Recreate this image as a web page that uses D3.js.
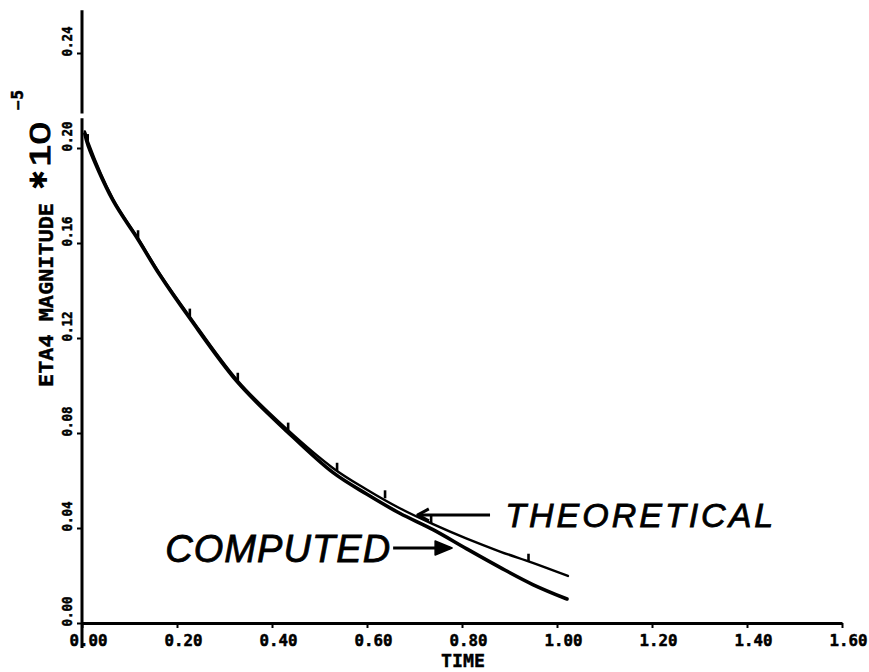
<!DOCTYPE html>
<html><head><meta charset="utf-8">
<script src="https://cdn.jsdelivr.net/npm/d3@7"></script>
<style>body{margin:0;background:#fff}svg{display:block;background:#fff}</style>
</head><body>
<svg id="chart" width="869" height="672"></svg>
<script>
// ---- data ----
const xTicks = [0, 0.2, 0.4, 0.6, 0.8, 1.0, 1.2, 1.4, 1.6];
const xTickLabels = ["0.00","0.20","0.40","0.60","0.80","1.00","1.20","1.40","1.60"];
const yTicks = [0, 0.04, 0.08, 0.12, 0.16, 0.20, 0.24];
const yTickLabels = ["0.00","0.04","0.08","0.12","0.16","0.20","0.24"];

const computedTime  = [0.006, 0.013, 0.065, 0.118, 0.164, 0.227, 0.328, 0.432, 0.528, 0.600, 0.669, 0.739, 0.810, 0.880, 0.949, 1.021];
const computedValue = [0.206, 0.201, 0.178, 0.1615, 0.1465, 0.1283, 0.1013, 0.0806, 0.0634, 0.0542, 0.0462, 0.0393, 0.0312, 0.0234, 0.0162, 0.0101];

const theoreticalTime  = [0.006, 0.013, 0.065, 0.118, 0.164, 0.227, 0.328, 0.432, 0.528, 0.600, 0.669, 0.739, 0.810, 0.880, 0.949, 1.023];
const theoreticalValue = [0.207, 0.2025, 0.1787, 0.162, 0.147, 0.129, 0.102, 0.0815, 0.0653, 0.0561, 0.0483, 0.0416, 0.0355, 0.0301, 0.0253, 0.0198];

// theoretical point symbols (small upward ticks on the curve)
const markerTime  = [0.012, 0.118, 0.227, 0.328, 0.434, 0.537, 0.638, 0.735, 0.940];
const markerValue = [0.2025, 0.162, 0.129, 0.102, 0.081, 0.0641, 0.0525, 0.0419, 0.0258];

const seriesLabels = ["THEORETICAL", "COMPUTED"];
const xTitle = "TIME";
const yTitle = "ETA4 MAGNITUDE";

// ---- scales ----
const svg = d3.select("#chart");
const x = d3.scaleLinear().domain([0, 1.6]).range([82, 842]);
const y = d3.scaleLinear().domain([0, 0.24]).range([623, 53]);

// ---- x axis ----
const gx = svg.append("g").attr("transform", `translate(0,${y(0)})`)
  .call(d3.axisBottom(x).tickValues(xTicks).tickSize(5).tickSizeOuter(0)
        .tickFormat((d, i) => xTickLabels[i]));
gx.select(".domain").attr("stroke", "#000").attr("stroke-width", 3);
gx.selectAll(".tick line").attr("stroke", "#000").attr("stroke-width", 2);
gx.selectAll(".tick text")
  .attr("y", 23).attr("dy", 0).attr("x", 6)
  .attr("font-family", "DejaVu Sans Mono, monospace").attr("font-weight", "bold")
  .attr("font-size", 15.5).attr("fill", "#000").attr("stroke", "#000").attr("stroke-width", 0.5)
  .attr("textLength", 38).attr("lengthAdjust", "spacingAndGlyphs");

// ---- y axis ----
const gy = svg.append("g").attr("transform", `translate(${x(0)},0)`)
  .call(d3.axisLeft(y).tickValues(yTicks).tickSize(5)
        .tickFormat((d, i) => yTickLabels[i]));
gy.select(".domain").remove();
gy.selectAll(".tick line").attr("stroke", "#000").attr("stroke-width", 2);
gy.selectAll(".tick text")
  .attr("transform", "rotate(-90)")
  .attr("x", -3).attr("y", -10).attr("dy", 0)
  .attr("text-anchor", "start")
  .attr("font-family", "DejaVu Sans Mono, monospace").attr("font-weight", "bold")
  .attr("font-size", 14).attr("fill", "#000").attr("stroke", "#000").attr("stroke-width", 0.5)
  .attr("textLength", 30).attr("lengthAdjust", "spacingAndGlyphs");
// axis spine (extends below the x axis and above the last tick, with a small scan gap)
svg.append("path")
  .attr("d", `M${x(0)},${y(0) + 25}V${y(0.2125)}M${x(0)},${y(0.2145)}V${y(0.258)}`)
  .attr("stroke", "#000").attr("stroke-width", 3).attr("fill", "none");

// ---- curves ----
const line = d3.line().x(d => x(d[0])).y(d => y(d[1])).curve(d3.curveCatmullRom.alpha(0.5));
const computed = computedTime.map((t, i) => [t, computedValue[i]]);
const theoretical = theoreticalTime.map((t, i) => [t, theoreticalValue[i]]);

svg.append("path").attr("d", line(computed))
  .attr("fill", "none").attr("stroke", "#000").attr("stroke-width", 3.6)
  .attr("stroke-linecap", "round");
svg.append("path").attr("d", line(theoretical))
  .attr("fill", "none").attr("stroke", "#000").attr("stroke-width", 2.4)
  .attr("stroke-linecap", "round");

svg.append("g").selectAll("line").data(markerTime).join("line")
  .attr("x1", (d) => x(d)).attr("x2", (d) => x(d))
  .attr("y1", (d, i) => y(markerValue[i]))
  .attr("y2", (d, i) => y(markerValue[i]) - 8)
  .attr("stroke", "#000").attr("stroke-width", 2.6);

// ---- axis titles ----
svg.append("text").text(xTitle)
  .attr("x", 463).attr("y", 666.5).attr("text-anchor", "middle")
  .attr("font-family", "DejaVu Sans Mono, monospace").attr("font-weight", "bold")
  .attr("font-size", 18).attr("stroke", "#000").attr("stroke-width", 0.4)
  .attr("textLength", 44).attr("lengthAdjust", "spacingAndGlyphs");

const yt = svg.append("g");
yt.append("text").text(yTitle)
  .attr("transform", "translate(53,387) rotate(-90)")
  .attr("font-family", "DejaVu Sans Mono, monospace").attr("font-weight", "bold")
  .attr("font-size", 20).attr("stroke", "#000").attr("stroke-width", 0.4)
  .attr("textLength", 184).attr("lengthAdjust", "spacingAndGlyphs");
yt.append("text").text("✱")
  .attr("transform", "translate(39,180) rotate(-90)")
  .attr("text-anchor", "middle").attr("dominant-baseline", "central")
  .attr("font-family", "DejaVu Sans").attr("font-size", 24);
yt.append("text").text("10")
  .attr("transform", "translate(50,167) rotate(-90)")
  .attr("font-family", "Liberation Sans, Arial, sans-serif")
  .attr("font-size", 30).attr("stroke", "#000").attr("stroke-width", 1)
  .attr("textLength", 45).attr("lengthAdjust", "spacingAndGlyphs");
yt.append("text").text("−5")
  .attr("transform", "translate(23,111) rotate(-90)")
  .attr("font-family", "DejaVu Sans, sans-serif").attr("font-weight", "bold")
  .attr("font-size", 15).attr("stroke", "#000").attr("stroke-width", 0.5)
  .attr("textLength", 21).attr("lengthAdjust", "spacingAndGlyphs");

// ---- annotations (positions in data units) ----
const annTextPos = [[0.891, 0.0404], [0.175, 0.0257]];
const annTextLen = [268, 225];
const annFontSize = [34, 38];
const annArrowFrom = [[0.859, 0.0455], [0.655, 0.0316]];
const annArrowTo   = [[0.707, 0.0455], [0.775, 0.0316]];

seriesLabels.forEach((lab, i) => {
  svg.append("text").text(lab)
    .attr("x", x(annTextPos[i][0])).attr("y", y(annTextPos[i][1]))
    .attr("font-family", "Liberation Sans, Arial, sans-serif").attr("font-style", "italic")
    .attr("font-size", annFontSize[i]).attr("stroke", "#000").attr("stroke-width", 0.8)
    .attr("textLength", annTextLen[i]).attr("lengthAdjust", "spacing");
  const x1 = x(annArrowFrom[i][0]), y1 = y(annArrowFrom[i][1]);
  const x2 = x(annArrowTo[i][0]), y2 = y(annArrowTo[i][1]);
  svg.append("line").attr("x1", x1).attr("y1", y1).attr("x2", x2).attr("y2", y2)
    .attr("stroke", "#000").attr("stroke-width", 3);
  const dir = Math.sign(x2 - x1);
  if (i === 0) {
    svg.append("path")
      .attr("d", `M${x2 - dir * 11},${y2 - 6}L${x2},${y2}L${x2 - dir * 11},${y2 + 6}`)
      .attr("fill", "none").attr("stroke", "#000").attr("stroke-width", 3)
      .attr("stroke-linejoin", "round");
  } else {
    svg.append("path")
      .attr("d", `M${x2 - dir * 15},${y2 - 7}L${x2 + dir * 2},${y2}L${x2 - dir * 15},${y2 + 7}Z`)
      .attr("fill", "#000").attr("stroke", "#000").attr("stroke-width", 1.5)
      .attr("stroke-linejoin", "round");
  }
});
</script>
</body></html>
